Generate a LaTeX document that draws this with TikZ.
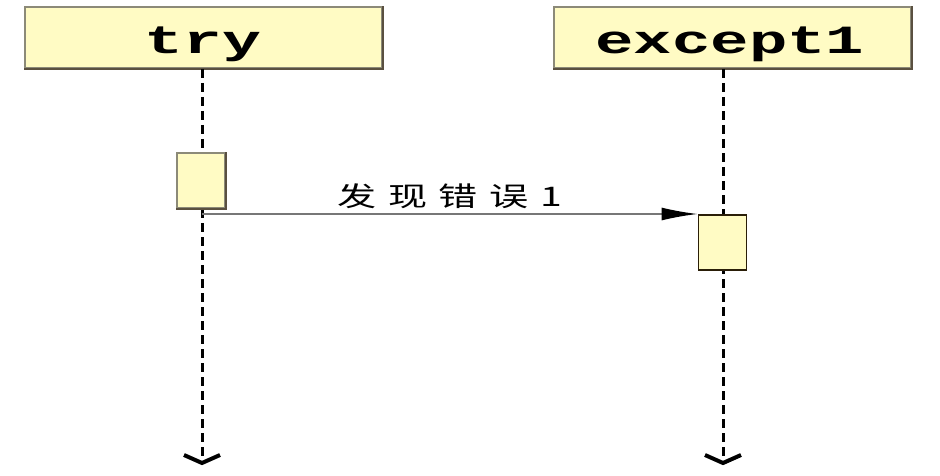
\documentclass[tikz,border=0pt]{standalone}
\usepackage{fontspec}
\usepackage{graphicx}
\setmonofont{Liberation Mono}
\newfontfamily\cjk[LetterSpace=30]{Noto Sans CJK SC}
\usetikzlibrary{arrows.meta}
\definecolor{boxfill}{HTML}{FFFBC4}
\definecolor{boxedge}{HTML}{8C8A78}
\definecolor{shadowc}{HTML}{5A5040}
\definecolor{actedge}{HTML}{2A1E08}
\definecolor{msgline}{HTML}{777777}
\tikzset{
  headbox/.style={draw=boxedge, line width=1.5pt, fill=boxfill, minimum width=357pt, minimum height=61pt, inner sep=0pt},
  headtext/.style={font=\ttfamily\bfseries\fontsize{40}{40}\selectfont, inner sep=0pt},
  actbox/.style={draw=actedge, line width=1.8pt, fill=boxfill, minimum width=48pt, minimum height=55pt, inner sep=0pt},
  lifeline/.style={line width=3pt, dash pattern=on 9pt off 5pt},
  chevron/.style={line width=4pt, line join=miter},
  msg/.style={draw=msgline, line width=1.5pt, -{Latex[length=36pt,width=13pt,fill=black,color=black]}},
  msglabel/.style={font=\cjk\fontsize{27}{27}\selectfont, inner sep=0pt}
}
\begin{document}
\begin{tikzpicture}[x=1pt,y=-1pt]
\useasboundingbox (0,0) rectangle (940,476);
% heads
\node[headbox] (tryhead) at (203.5,37.5) {};
\draw[shadowc, line width=2pt] (tryhead.north east) -- (tryhead.south east) -- (tryhead.south west);
\node[headtext] (trytext) at (203,44) {\scalebox{1.62}[1]{try}};
\node[headbox] (exhead) at (732.5,37.5) {};
\draw[shadowc, line width=2pt] (exhead.north east) -- (exhead.south east) -- (exhead.south west);
\node[headtext] (extext) at (730,44) {\scalebox{1.6}[1]{except1}};
% lifeline anchors
\coordinate (trytop) at (202,69);
\coordinate (trybot) at (202,463);
\coordinate (extop) at (723,69);
\coordinate (exbot) at (723,463);
\draw[lifeline] (trytop) -- (trybot);
\draw[lifeline] (extop) -- (exbot);
\draw[chevron] ([xshift=-18pt,yshift=8pt]trybot) -- (trybot) -- ([xshift=18pt,yshift=8pt]trybot);
\draw[chevron] ([xshift=-18pt,yshift=8pt]exbot) -- (exbot) -- ([xshift=18pt,yshift=8pt]exbot);
% activations
\node[actbox, draw=boxedge] (tryact) at (201,180.5) {};
\draw[shadowc, line width=2pt] (tryact.north east) -- (tryact.south east) -- (tryact.south west);
\node[actbox] (exact) at (722.5,242.5) {};
% message
\coordinate (m1) at (202,214);
\draw[msg] (m1) -- (m1 -| exact.west) node[midway, above=5pt, msglabel] (lbl) {\scalebox{1.45}[1]{发现错误1}};
\end{tikzpicture}
\end{document}
